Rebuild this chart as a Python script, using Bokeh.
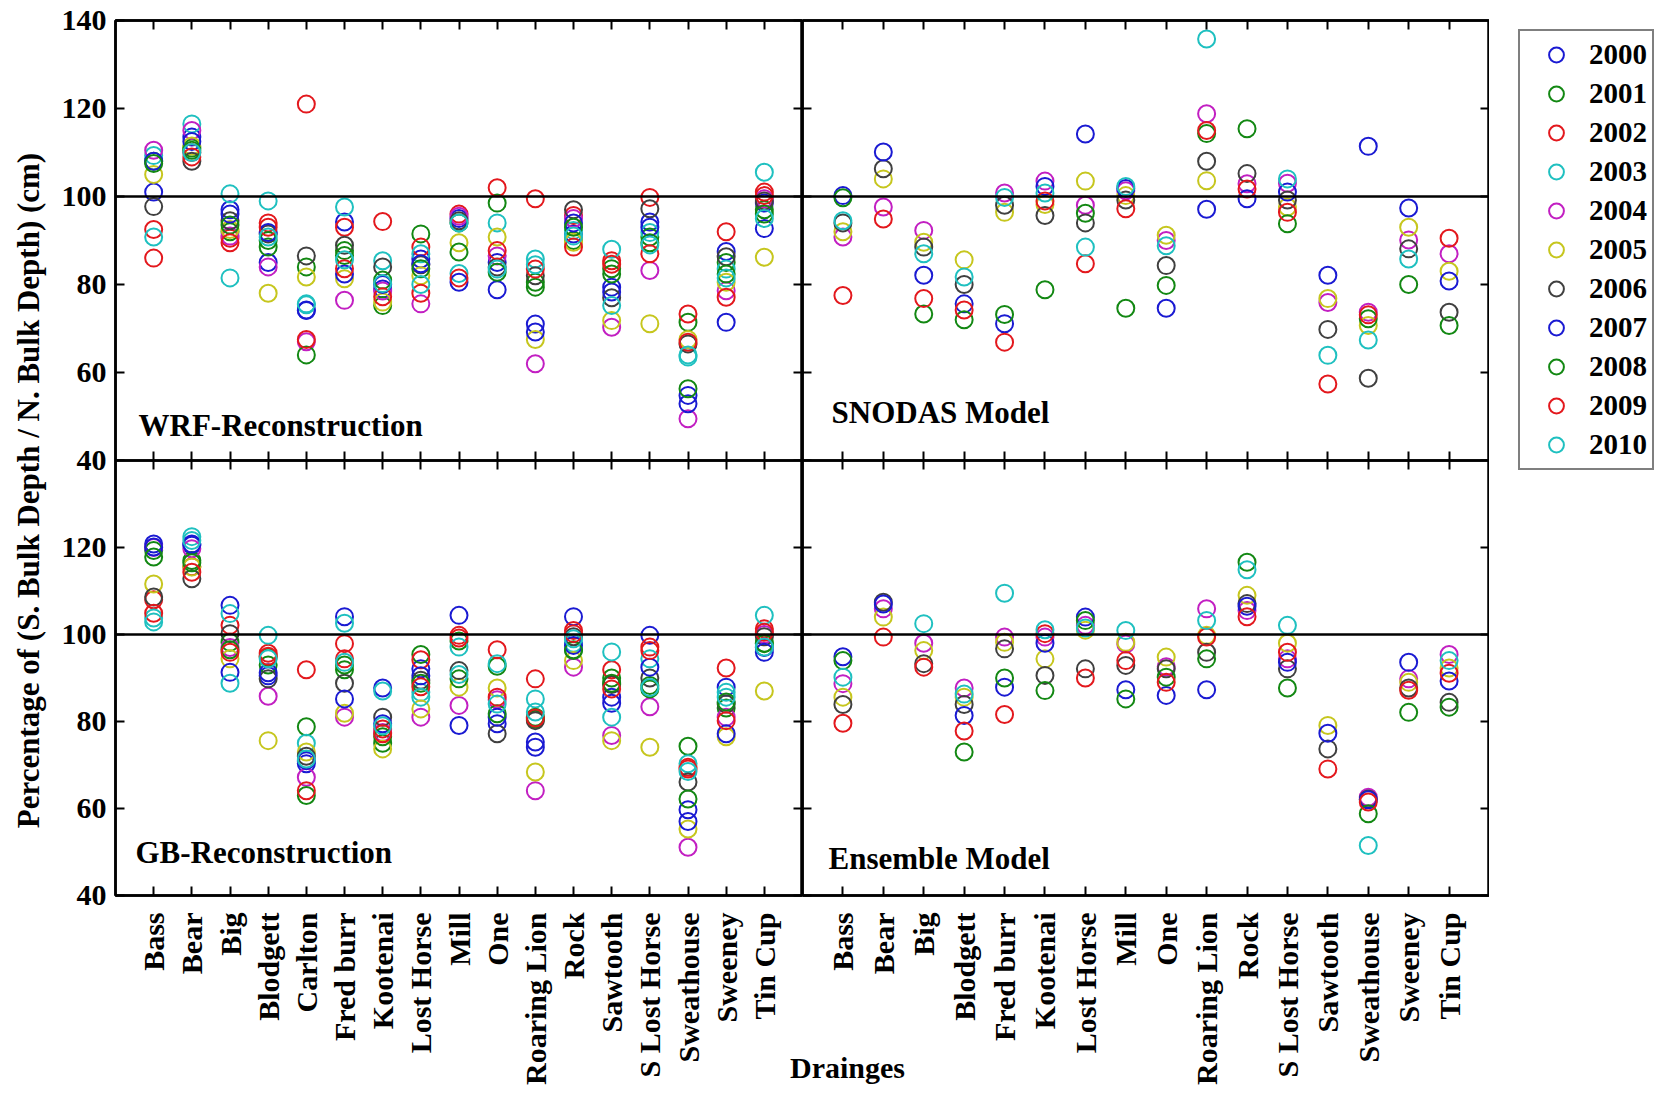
import math
from bokeh.plotting import figure
from bokeh.models import (Range1d, FactorRange, FixedTicker, LinearAxis, CategoricalAxis,
                          Span, Label, Legend, LegendItem, CustomLabelingPolicy)
from bokeh.layouts import row, column
from bokeh.embed import file_html
from bokeh.resources import INLINE

N = None
years = [2000, 2001, 2002, 2003, 2004, 2005, 2006, 2007, 2008, 2009, 2010]
year_colors = ["#1a1ad2", "#138813", "#e3181d", "#1fc0c0", "#c21fc2", "#c6c61e",
               "#404040", "#1a1ad2", "#138813", "#e3181d", "#1fc0c0"]

left_drainages = ["Bass", "Bear", "Big", "Blodgett", "Carlton", "Fred burr", "Kootenai",
                  "Lost Horse", "Mill", "One", "Roaring Lion", "Rock", "Sawtooth",
                  "S Lost Horse", "Sweathouse", "Sweeney", "Tin Cup"]
right_drainages = ["Bass", "Bear", "Big", "Blodgett", "Fred burr", "Kootenai", "Lost Horse",
                   "Mill", "One", "Roaring Lion", "Rock", "S Lost Horse", "Sawtooth",
                   "Sweathouse", "Sweeney", "Tin Cup"]

y_ticks_top = [40, 60, 80, 100, 120, 140]
y_ticks_bottom = [40, 60, 80, 100, 120]

# ---- WRF-Reconstruction (values for 2000..2010) ----
wrf_bass = [101, 108, 92.5, 109.3, 110.5, 105, 97.7, 108, 107.5, 86, 90.8]
wrf_bear = [113.5, 111, 110, 116.5, 115, 111.5, 108, 112.5, 110.5, 109, 110]
wrf_big = [97, 92, 90.5, 100.6, 91, 92.5, 94.5, 96, 93.5, 89.5, 81.5]
wrf_blodgett = [85, 88.5, 94, 99, 84, 78, 91.5, 91.8, 90, 93, 90.8]
wrf_carlton = [74.2, 84, 121, 75.4, 67, 81.7, 86.5, 74.1, 64, 67.5, 75.6]
wrf_fredburr = [94.2, 87.7, 93, 97.6, 76.4, 81.3, 88.9, 82.4, 86.6, 83.6, 85.6]
wrf_kootenai = [79, 75.2, 94.3, 85.4, 78.5, 76, 84, 80, 81, 77.2, 80.2]
wrf_losthorse = [85.8, 91.5, 88.5, 87, 75.6, 82, 84.5, 84.7, 83.6, 78, 80]
wrf_mill = [95, 94, 96, 82.5, 95.5, 89.5, 94.5, 80.5, 87.4, 81.5, 94]
wrf_one = [85, 98.5, 102, 94, 86.5, 90.8, 84, 78.8, 82.8, 87.7, 83.5]
wrf_roaringlion = [71, 80.5, 99.5, 85.8, 62, 67.5, 82, 69.2, 79.4, 83.5, 84.5]
wrf_rock = [91.5, 90, 95.7, 92.3, 95, 89.6, 97, 94, 93, 88.5, 91]
wrf_sawtooth = [79.4, 83.6, 85.4, 88, 70.3, 71.8, 77, 78.3, 82.4, 84.6, 75.2]
wrf_slosthorse = [94.2, 90.8, 99.8, 91.8, 83.2, 71.1, 97.2, 93, 89.5, 87, 89]
wrf_sweathouse = [54.8, 71.4, 73.3, 63.5, 49.5, 67.5, 66.5, 52.9, 56.3, 66.9, 64]
wrf_sweeney = [87.5, 85, 92, 83.5, 78.6, 80.5, 86.3, 71.4, 82.4, 77.1, 81.5]
wrf_tincup = [98.5, 97, 101, 105.5, 99.5, 86.2, 99, 92.7, 96, 100.2, 95]

# ---- SNODAS Model ----
snodas_bass = [N, N, N, N, 90.8, 92, 94, 100.2, 99.7, 77.5, 94.5]
snodas_bear = [N, N, N, N, 97.6, 104, 106.3, 110.1, N, 94.9, N]
snodas_big = [N, N, N, N, 92.3, 89.6, 88.5, 82.1, 73.3, 76.8, 87]
snodas_blodgett = [N, N, N, N, N, 85.6, 80, 75.6, 72, 74.2, 81.7]
snodas_fredburr = [N, N, N, N, 100.8, 96.4, 98, 71.1, 73.2, 66.9, 99.8]
snodas_kootenai = [N, N, N, N, 103.5, 98.2, 95.7, 102.3, 78.8, 99, 100.8]
snodas_losthorse = [N, N, N, N, 98, 103.5, 94, 114.2, 96.2, 84.7, 88.5]
snodas_mill = [N, N, N, N, 101.3, 100.2, 99.2, 101.8, 74.6, 97.2, 102.3]
snodas_one = [N, N, N, N, 90, 91.2, 84.3, 74.6, 79.8, N, 88.8]
snodas_roaringlion = [N, N, N, N, 118.8, 103.6, 108, 97.1, 114.3, 115, 135.8]
snodas_rock = [N, N, N, N, 102.9, N, 105.2, 99.5, 115.4, 101.7, N]
snodas_slosthorse = [N, N, N, N, 103, 97.6, 99.2, 101, 93.8, 96.4, 104]
snodas_sawtooth = [N, N, N, N, 75.9, 76.8, 69.8, 82.1, N, 57.4, 63.9]
snodas_sweathouse = [N, N, N, N, 73.7, 70.7, 58.7, 111.4, 72.2, 73.1, 67.4]
snodas_sweeney = [N, N, N, N, 90.1, 93, 88.1, 97.4, 80, N, 85.8]
snodas_tincup = [N, N, N, N, 87, 83, 73.7, 80.8, 70.7, 90.5, N]

# ---- GB-Reconstruction ----
gb_bass = [120.8, 119.3, 108, 103.8, 120, 111.6, 108.6, 120.1, 117.8, 104.9, 102.9]
gb_bear = [120.5, 117, 115.6, 122.5, 119.7, 115.5, 112.8, 120.8, 116.5, 114.3, 121.6]
gb_big = [106.7, 98.2, 102.1, 104.8, 97, 94.4, 100.2, 91.3, 96.5, 95.9, 88.8]
gb_blodgett = [90.5, 93, 95.7, 99.8, 85.8, 75.6, 89.8, 91.2, 94.8, 95, 94.4]
gb_carlton = [70.3, 78.8, 91.9, 75, 67.2, 73, 72, 71, 63, 64.1, 71.4]
gb_fredburr = [104.1, 91.9, 97.9, 102.6, 81, 81.9, 88.8, 85.2, 93, 94.4, 93.6]
gb_kootenai = [87.7, 75, 78.3, 87, 77.5, 73.7, 81, 79.5, 76.5, 77.2, 79]
gb_losthorse = [92.1, 95.4, 94.2, 86.7, 81, 82.9, 89.5, 90.5, 88.8, 88, 85.6]
gb_mill = [104.4, 98.5, 99.8, 97.1, 83.7, 87.9, 91.7, 79.1, 89.8, 99.2, 90.8]
gb_one = [79.5, 92.7, 96.5, 93.3, 85, 87.7, 77.2, 81, 81.8, 85.6, 84]
gb_roaringlion = [75.3, 80.5, 89.8, 85.2, 64.1, 68.4, 80.2, 74.1, 81, 80.8, 82.2]
gb_rock = [104.1, 96.5, 100.9, 98, 92.5, 94, 99.5, 97.5, 96.3, 100.2, 99]
gb_sawtooth = [85.6, 90, 91.9, 96, 76.8, 75.6, 88.5, 84.2, 88.8, 87.5, 81]
gb_slosthorse = [99.8, 88.3, 97.1, 94.4, 83.4, 74.1, 90, 92.5, 87.5, 96.3, 87.8]
gb_sweathouse = [59.7, 74.3, 69.5, 70.3, 51.1, 55.3, 66.1, 57, 62.2, 69.1, 68.5]
gb_sweeney = [87.9, 83.1, 92.3, 86.7, 81, 76.5, 84, 77.2, 84.5, 80.2, 85.6]
gb_tincup = [97, 98, 101.3, 104.4, 100, 87, 99.5, 95.9, 97.9, 100.5, 97.1]

# ---- Ensemble Model ----
ens_bass = [N, N, N, N, 88.7, 85.6, 83.9, 94.9, 94, 79.6, 90.2]
ens_bear = [N, N, N, N, 105.9, 104, 107.4, 107, N, 99.4, N]
ens_big = [N, N, N, N, 98, 96.3, 93.3, N, N, 92.5, 102.5]
ens_blodgett = [N, N, N, N, 87.7, 85.6, 83.9, 81.4, 73, 77.8, 86.3]
ens_fredburr = [N, N, N, N, 99.4, 98.2, 96.7, 87.9, 90, 81.6, 109.5]
ens_kootenai = [N, N, N, N, 99.4, 94.4, 90.6, 98, 87.1, 100.2, 101.1]
ens_losthorse = [N, N, N, N, 102.1, 101, 92.1, 104, 103.2, 90, 101.5]
ens_mill = [N, N, N, N, 97.8, 98.2, 92.9, 87.3, 85.2, 94, 100.9]
ens_one = [N, N, N, N, 92.6, 94.8, 92.1, 86, 90.2, 89, N]
ens_roaringlion = [N, N, N, N, 105.9, 99.8, 95.9, 87.3, 94.4, 99.4, 103.2]
ens_rock = [N, N, N, N, 105.5, 109, 107.1, 106.5, 116.6, 104.1, 114.9]
ens_slosthorse = [N, N, N, N, 94.4, 98, 92.1, 93.6, 87.7, 95.9, 102.1]
ens_sawtooth = [N, N, N, N, N, 79.1, 73.7, 77.3, N, 69.1, N]
ens_sweathouse = [N, N, N, N, 62.6, N, 62.2, 62, 58.8, 61.5, 51.5]
ens_sweeney = [N, N, N, N, 89.8, 89, 87.7, 93.6, 82.1, 87.2, N]
ens_tincup = [N, N, N, N, 95.4, 92.3, 84.4, 89.3, 83.3, 91.1, 94]

wrf = [wrf_bass, wrf_bear, wrf_big, wrf_blodgett, wrf_carlton, wrf_fredburr, wrf_kootenai,
       wrf_losthorse, wrf_mill, wrf_one, wrf_roaringlion, wrf_rock, wrf_sawtooth,
       wrf_slosthorse, wrf_sweathouse, wrf_sweeney, wrf_tincup]
gb = [gb_bass, gb_bear, gb_big, gb_blodgett, gb_carlton, gb_fredburr, gb_kootenai,
      gb_losthorse, gb_mill, gb_one, gb_roaringlion, gb_rock, gb_sawtooth,
      gb_slosthorse, gb_sweathouse, gb_sweeney, gb_tincup]
snodas = [snodas_bass, snodas_bear, snodas_big, snodas_blodgett, snodas_fredburr,
          snodas_kootenai, snodas_losthorse, snodas_mill, snodas_one, snodas_roaringlion,
          snodas_rock, snodas_slosthorse, snodas_sawtooth, snodas_sweathouse,
          snodas_sweeney, snodas_tincup]
ens = [ens_bass, ens_bear, ens_big, ens_blodgett, ens_fredburr, ens_kootenai, ens_losthorse,
       ens_mill, ens_one, ens_roaringlion, ens_rock, ens_slosthorse, ens_sawtooth,
       ens_sweathouse, ens_sweeney, ens_tincup]

FONT = "Liberation Serif"


def style_axis(ax, show, size, standoff):
    ax.axis_line_width = 2.5
    ax.axis_line_color = "black"
    ax.major_tick_line_width = 2
    ax.major_tick_line_color = "black"
    ax.major_tick_in = 9
    ax.major_tick_out = 0
    ax.minor_tick_in = 0
    ax.minor_tick_out = 0
    ax.major_label_text_font = FONT
    ax.major_label_text_font_style = "bold"
    ax.major_label_text_color = "black"
    if show:
        ax.major_label_text_font_size = size
        ax.major_label_standoff = standoff
    else:
        # tick marks only (box-style frame): no tick labels on this side
        ax.major_label_policy = CustomLabelingPolicy(code="return []")
        ax.major_label_text_font_size = "0px"
        ax.major_label_standoff = 0


def bare_figure(**kw):
    f = figure(x_axis_location=None, y_axis_location=None, toolbar_location=None,
               output_backend="svg", title=None, outline_line_color=None,
               x_range=Range1d(0, 1), y_range=Range1d(0, 1),
               background_fill_alpha=0, border_fill_alpha=0, **kw)
    f.grid.visible = False
    return f


def make_panel(cats, table, frame_h, borders, y_ticks, show_y, show_x, title, tx, ty):
    top, right, bottom, left = borders
    p = figure(x_range=FactorRange(factors=cats, range_padding=0.5, range_padding_units="absolute"),
               y_range=Range1d(40, 140), frame_width=687, frame_height=frame_h,
               x_axis_location=None, y_axis_location=None, toolbar_location=None,
               output_backend="svg", title=None, min_border_top=top, min_border_right=right,
               min_border_bottom=bottom, min_border_left=left,
               outline_line_color="black", outline_line_width=2.5,
               background_fill_color="white", border_fill_alpha=0)
    p.grid.visible = False
    for side in ("left", "right"):
        ax = LinearAxis(ticker=FixedTicker(ticks=y_ticks, minor_ticks=[]))
        style_axis(ax, show_y and side == "left", "30px", 9)
        p.add_layout(ax, side)
    for side in ("below", "above"):
        ax = CategoricalAxis()
        style_axis(ax, show_x and side == "below", "30px", 17)
        ax.major_label_orientation = math.pi / 2
        p.add_layout(ax, side)
    p.add_layout(Span(location=100, dimension="width", line_color="black", line_width=2.5))
    for yi, yr in enumerate(years):
        xs = [c for c, vals in zip(cats, table) if vals[yi] is not None]
        ys = [vals[yi] for vals in table if vals[yi] is not None]
        if xs:
            p.scatter(x=xs, y=ys, marker="circle", size=17, fill_color=None,
                      line_color=year_colors[yi], line_width=2)
    p.add_layout(Label(x=tx, y=ty, x_units="screen", y_units="screen", text=title,
                       text_font=FONT, text_font_style="bold", text_font_size="31px",
                       text_color="black", text_baseline="alphabetic", text_align="left"))
    return p


TL = make_panel(left_drainages, wrf, 440, (20, 0, 20, 57), y_ticks_top, True, False,
                "WRF-Reconstruction", 23, 35)
TR = make_panel(right_drainages, snodas, 440, (20, 0, 20, 20), y_ticks_bottom, False, False,
                "SNODAS Model", 29, 48)
TR.margin = (0, 0, 0, -20)
BL = make_panel(left_drainages, gb, 435, (0, 0, 192, 57), y_ticks_bottom, True, True,
                "GB-Reconstruction", 20, 43)
BR = make_panel(right_drainages, ens, 435, (0, 0, 192, 20), y_ticks_bottom, False, True,
                "Ensemble Model", 26, 37)
BR.margin = (0, 0, 0, -20)

# legend panel (full height column to the right of the panels)
LEG = bare_figure(width=170, height=1084, min_border=0)
items = []
for yi, yr in enumerate(years):
    r = LEG.scatter(x=[float("nan")], y=[float("nan")], marker="circle", size=15,
                    fill_color=None, line_color=year_colors[yi], line_width=2)
    items.append(LegendItem(label=str(yr), renderers=[r]))
legend = Legend(items=items, location="top_left", margin=29, padding=5, spacing=2,
                glyph_height=37, glyph_width=62, label_height=37, label_standoff=2,
                label_text_font=FONT, label_text_font_style="bold", label_text_font_size="29px",
                label_text_color="black", label_text_baseline="middle",
                border_line_color="black", border_line_width=2,
                background_fill_color="white", background_fill_alpha=1)
LEG.add_layout(legend, "center")

# y-axis title panel
YL = bare_figure(width=58, height=1084, min_border=0)
YL.add_layout(Label(x=27.5, y=594, x_units="screen", y_units="screen",
                    text="Percentage of (S. Bulk Depth / N. Bulk Depth) (cm)",
                    angle=math.pi / 2, text_font=FONT, text_font_style="bold",
                    text_font_size="31px", text_color="black",
                    text_align="center", text_baseline="middle"))

# x-axis title panel (overlaps the bottom border of the lower panels)
XL = bare_figure(width=1431, height=56, min_border=0)
XL.add_layout(Label(x=789, y=18, x_units="screen", y_units="screen", text="Drainges",
                    text_font=FONT, text_font_style="bold", text_font_size="30px",
                    text_color="black", text_baseline="middle", text_align="center"))
XL.margin = (-59, 0, 0, 0)

top_row = row(TL, TR)
bottom_row = row(BL, BR)
bottom_row.margin = (-20, 0, 0, 0)
p = row(YL, column(top_row, bottom_row, XL), LEG)

open("out.html", "w").write(file_html(p, INLINE))
